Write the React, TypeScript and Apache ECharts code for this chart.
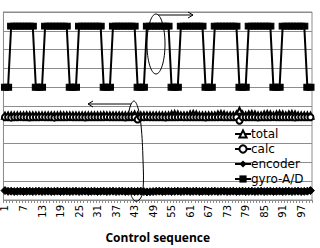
import React, { useEffect, useRef } from "react";
import * as echarts from "echarts";

const categories: string[] = Array.from({ length: 100 }, (_, i) => String(i + 1));

const gyroAD: number[] = [
  6, 6, 9.25, 9.25, 9.25, 9.25, 9.25, 9.25, 9.25, 9.25,
  6, 6, 6, 9.25, 9.25, 9.25, 9.25, 9.25, 9.25, 9.25,
  9.25, 6, 6, 6, 9.25, 9.25, 9.25, 9.25, 9.25, 9.25,
  9.25, 9.25, 6, 6, 6, 9.25, 9.25, 9.25, 9.25, 9.25,
  9.25, 9.25, 9.25, 6, 6, 6, 9.25, 9.25, 9.25, 9.25,
  9.25, 9.25, 9.25, 9.25, 6, 6, 6, 9.25, 9.25, 9.25,
  9.25, 9.25, 9.25, 9.25, 9.25, 6, 6, 6, 9.25, 9.25,
  9.25, 9.25, 9.25, 9.25, 9.25, 9.25, 6, 6, 6, 9.25,
  9.25, 9.25, 9.25, 9.25, 9.25, 9.25, 9.25, 6, 6, 6,
  9.25, 9.25, 9.25, 9.25, 9.25, 9.25, 9.25, 9.25, 6, 6,
];

const calc: number[] = [
  4.4, 4.4, 4.38, 4.4, 4.4, 4.41, 4.4, 4.4, 4.39, 4.4,
  4.4, 4.4, 4.41, 4.4, 4.4, 4.4, 4.38, 4.4, 4.4, 4.4,
  4.4, 4.41, 4.4, 4.4, 4.4, 4.4, 4.39, 4.4, 4.4, 4.4,
  4.4, 4.4, 4.4, 4.41, 4.4, 4.4, 4.4, 4.4, 4.4, 4.39,
  4.4, 4.4, 4.4, 4.28, 4.4, 4.4, 4.41, 4.4, 4.4, 4.4,
  4.4, 4.4, 4.39, 4.4, 4.4, 4.4, 4.4, 4.41, 4.4, 4.4,
  4.4, 4.4, 4.4, 4.4, 4.4, 4.39, 4.4, 4.4, 4.4, 4.4,
  4.41, 4.4, 4.4, 4.4, 4.4, 4.4, 4.22, 4.4, 4.4, 4.4,
  4.4, 4.4, 4.39, 4.4, 4.4, 4.4, 4.4, 4.41, 4.4, 4.4,
  4.4, 4.4, 4.4, 4.4, 4.39, 4.4, 4.4, 4.4, 4.4, 4.4,
];

const total: number[] = [
  4.48, 4.5, 4.5, 4.49, 4.5, 4.5, 4.5, 4.51, 4.5, 4.5,
  4.5, 4.49, 4.5, 4.5, 4.5, 4.5, 4.5, 4.5, 4.51, 4.5,
  4.5, 4.5, 4.5, 4.5, 4.49, 4.5, 4.5, 4.5, 4.5, 4.5,
  4.5, 4.5, 4.51, 4.5, 4.5, 4.5, 4.5, 4.5, 4.5, 4.5,
  4.5, 4.5, 4.55, 4.5, 4.5, 4.5, 4.5, 4.5, 4.5, 4.5,
  4.5, 4.5, 4.5, 4.5, 4.55, 4.57, 4.55, 4.5, 4.5, 4.5,
  4.55, 4.58, 4.55, 4.5, 4.5, 4.5, 4.5, 4.5, 4.5, 4.55,
  4.57, 4.55, 4.5, 4.5, 4.5, 4.55, 4.75, 4.55, 4.5, 4.55,
  4.57, 4.55, 4.5, 4.5, 4.55, 4.57, 4.55, 4.5, 4.55, 4.57,
  4.55, 4.5, 4.55, 4.57, 4.55, 4.5, 4.5, 4.5, 4.5, 4.48,
];

const encoder: number[] = [
  0.5, 0.46, 0.47, 0.45, 0.46, 0.47, 0.45, 0.46, 0.47, 0.45,
  0.46, 0.47, 0.45, 0.46, 0.47, 0.45, 0.46, 0.47, 0.45, 0.46,
  0.47, 0.45, 0.46, 0.47, 0.45, 0.46, 0.47, 0.45, 0.46, 0.47,
  0.45, 0.46, 0.47, 0.45, 0.46, 0.47, 0.45, 0.46, 0.47, 0.45,
  0.46, 0.47, 0.45, 0.46, 0.47, 0.45, 0.43, 0.44, 0.45, 0.46,
  0.47, 0.45, 0.46, 0.47, 0.45, 0.46, 0.47, 0.45, 0.46, 0.47,
  0.45, 0.46, 0.47, 0.45, 0.46, 0.47, 0.45, 0.46, 0.47, 0.45,
  0.46, 0.47, 0.45, 0.46, 0.47, 0.45, 0.46, 0.47, 0.45, 0.46,
  0.47, 0.45, 0.46, 0.47, 0.45, 0.46, 0.47, 0.45, 0.46, 0.47,
  0.45, 0.46, 0.47, 0.45, 0.46, 0.47, 0.45, 0.46, 0.47, 0.5,
];

const seriesNames = ["total", "calc", "encoder", "gyro-A/D"];
const xAxisTitle = "Control sequence";

export default function App() {
  const ref = useRef<HTMLDivElement>(null);
  useEffect(() => {
    if (!ref.current) return;
    const chart = echarts.init(ref.current, undefined, { renderer: "svg" });
    const grey = "#8c8c8c";
    const common = { type: "line", showAllSymbol: true, showSymbol: true };
    chart.setOption({
      animation: false,
      backgroundColor: "#ffffff",
      grid: {
        left: 3,
        right: 8,
        top: 12,
        bottom: 46,
        show: true,
        borderColor: grey,
        borderWidth: 1,
        containLabel: false,
      },
      legend: {
        orient: "vertical",
        left: 229,
        top: 123,
        itemWidth: 16,
        itemHeight: 9,
        itemGap: 3,
        data: seriesNames,
        textStyle: {
          fontFamily: "DejaVu Sans",
          fontSize: 12,
          color: "#000",
          lineHeight: 12,
          padding: [0, 0, 0, -5],
        },
      },
      xAxis: {
        type: "category",
        data: categories,
        boundaryGap: true,
        name: xAxisTitle,
        nameLocation: "middle",
        nameGap: 31,
        nameTextStyle: {
          fontFamily: "Open Sans",
          fontWeight: "bold",
          fontSize: 12,
          color: "#000",
        },
        axisLine: { show: true, lineStyle: { color: grey, width: 1 } },
        axisTick: { show: true, interval: 0, length: 3, lineStyle: { color: grey } },
        axisLabel: {
          interval: 5,
          rotate: 90,
          margin: 5,
          showMinLabel: true,
          hideOverlap: false,
          fontFamily: "DejaVu Sans",
          fontSize: 10,
          color: "#000",
        },
        splitLine: { show: false },
      },
      yAxis: {
        type: "value",
        min: 0,
        max: 10,
        interval: 1,
        axisLine: { show: true, lineStyle: { color: grey } },
        axisTick: { show: false },
        axisLabel: { show: false },
        splitLine: { show: true, lineStyle: { color: grey, width: 1 } },
      },
      series: [
        {
          ...common,
          name: "total",
          data: total,
          symbol: "emptyTriangle",
          symbolSize: 6,
          itemStyle: { color: "#000", borderColor: "#000", borderWidth: 1 },
          lineStyle: { color: "#000", width: 1 },
          z: 3,
        },
        {
          ...common,
          name: "calc",
          data: calc,
          symbol: "emptyCircle",
          symbolSize: 6,
          itemStyle: { color: "#000", borderColor: "#000", borderWidth: 1 },
          lineStyle: { color: "#000", width: 1 },
          z: 4,
        },
        {
          ...common,
          name: "encoder",
          data: encoder,
          symbol: "diamond",
          symbolSize: 8,
          itemStyle: { color: "#000", borderColor: "#000" },
          lineStyle: { color: "#000", width: 2.5 },
          z: 5,
        },
        {
          ...common,
          name: "gyro-A/D",
          data: gyroAD,
          symbol: "rect",
          symbolSize: [7, 6],
          itemStyle: { color: "#000", borderColor: "#000" },
          lineStyle: { color: "#000", width: 2 },
          z: 6,
        },
      ],
      graphic: [
        {
          type: "ellipse",
          z: 100,
          shape: { cx: 156, cy: 44, rx: 9, ry: 30 },
          style: { fill: "none", stroke: "#000", lineWidth: 1 },
        },
        {
          type: "line",
          z: 100,
          shape: { x1: 158, y1: 15, x2: 193, y2: 15 },
          style: { stroke: "#000", lineWidth: 1 },
        },
        {
          type: "polyline",
          z: 100,
          shape: { points: [[188, 12], [193, 15], [188, 18]] },
          style: { fill: "none", stroke: "#000", lineWidth: 1 },
        },
        {
          type: "line",
          z: 100,
          shape: { x1: 131, y1: 104, x2: 88, y2: 104 },
          style: { stroke: "#000", lineWidth: 1 },
        },
        {
          type: "polyline",
          z: 100,
          shape: { points: [[93, 101], [88, 104], [93, 107]] },
          style: { fill: "none", stroke: "#000", lineWidth: 1 },
        },
        {
          type: "polyline",
          z: 100,
          shape: {
            points: [
              [128, 120], [130, 107], [134, 101], [138, 108], [141, 125],
              [143, 160], [143, 190], [140, 199], [135, 201], [131, 195],
            ],
            smooth: 0.4,
          },
          style: { fill: "none", stroke: "#000", lineWidth: 1 },
        },
      ],
    });
    return () => chart.dispose();
  }, []);
  return (
    <div
      ref={ref}
      style={{ position: "fixed", left: 0, top: 0, width: 320, height: 248 }}
    />
  );
}
